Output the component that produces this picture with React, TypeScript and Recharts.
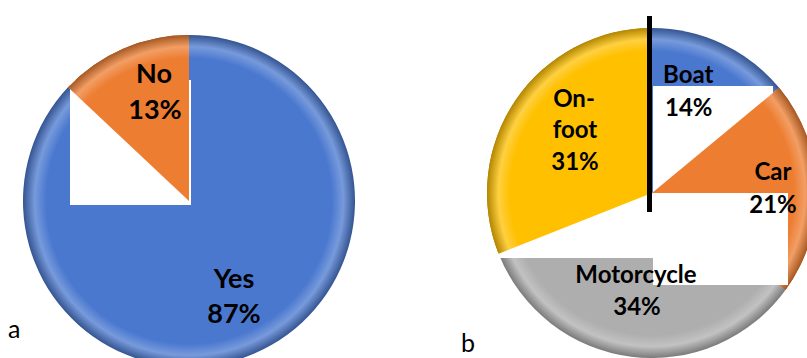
import React from "react";
import { PieChart, Pie, Cell } from "recharts";

// chart a: answer yes / no
const answerNames = ["No", "Yes"];
const answerValues = [13, 87];
const answerColors = ["#ED7D31", "#4A78CF"];

// chart b: mode of transport
const modeNames = ["Boat", "Car", "Motorcycle", "On-foot"];
const modeValues = [14, 21, 34, 31];
const modeColors = ["#4A78CF", "#ED7D31", "#AEAEAE", "#FFC000"];

const W = 807;
const H = 358;
const A = { cx: 189, cy: 201, r: 166 };
const B = { cx: 652, cy: 193, r: 165 };

const answerData = answerNames.map((name, i) => ({ name, value: answerValues[i] }));
const modeData = modeNames.map((name, i) => ({ name, value: modeValues[i] }));

const shade = (hex: string, f: number) => {
  const n = parseInt(hex.slice(1), 16);
  const c = [(n >> 16) & 255, (n >> 8) & 255, n & 255].map((v) =>
    Math.max(0, Math.min(255, Math.round(f > 0 ? v + (255 - v) * f : v * (1 + f))))
  );
  return `rgb(${c.join(",")})`;
};

const Grad = ({ id, color, p }: { id: string; color: string; p: typeof A }) => (
  <radialGradient id={id} gradientUnits="userSpaceOnUse" cx={p.cx} cy={p.cy} r={p.r}>
    <stop offset="0" stopColor={color} />
    <stop offset="0.86" stopColor={color} />
    <stop offset="0.93" stopColor={shade(color, 0.25)} />
    <stop offset="1" stopColor={shade(color, -0.3)} />
  </radialGradient>
);

// one layer of both pies; `show` says which slices are painted
const Layer = ({ tag, showA, showB }: { tag: string; showA: string[]; showB: string[] }) => (
  <div style={{ position: "absolute", left: 0, top: 0 }}>
    <PieChart width={W} height={H} margin={{ top: 0, right: 0, bottom: 0, left: 0 }}>
      <defs>
        {answerColors.map((c, i) => (
          <Grad key={"a" + i} id={`${tag}a${i}`} color={c} p={A} />
        ))}
        {modeColors.map((c, i) => (
          <Grad key={"b" + i} id={`${tag}b${i}`} color={c} p={B} />
        ))}
      </defs>
      <Pie
        data={answerData}
        dataKey="value"
        nameKey="name"
        cx={A.cx}
        cy={A.cy}
        outerRadius={A.r}
        startAngle={90}
        endAngle={450}
        stroke="none"
        isAnimationActive={false}
      >
        {answerData.map((d, i) => (
          <Cell key={d.name} fill={showA.includes(d.name) ? `url(#${tag}a${i})` : "transparent"} />
        ))}
      </Pie>
      <Pie
        data={modeData}
        dataKey="value"
        nameKey="name"
        cx={B.cx}
        cy={B.cy}
        outerRadius={B.r}
        startAngle={90}
        endAngle={-270}
        stroke="none"
        isAnimationActive={false}
      >
        {modeData.map((d, i) => (
          <Cell key={d.name} fill={showB.includes(d.name) ? `url(#${tag}b${i})` : "transparent"} />
        ))}
      </Pie>
    </PieChart>
  </div>
);

const WhiteBox = ({ x, y, w, h }: { x: number; y: number; w: number; h: number }) => (
  <div style={{ position: "absolute", left: x, top: y, width: w, height: h, background: "#fff" }} />
);

export default function App() {
  return (
    <div style={{ position: "absolute", left: 0, top: 0, width: W, height: H, overflow: "hidden", background: "#fff" }}>
      <Layer tag="l1" showA={answerNames} showB={modeNames} />
      <WhiteBox x={70} y={80} w={A.cx + 2 - 70} h={A.cy + 4 - 80} />
      <WhiteBox x={B.cx + 1} y={86} w={120} h={B.cy - 86} />
      <WhiteBox x={498} y={B.cy} w={B.cx + 1 - 498} h={65} />
      <Layer tag="l2" showA={["No"]} showB={["Car", "On-foot"]} />
      <WhiteBox x={B.cx + 1} y={B.cy} w={135} h={92} />
      <svg width={W} height={H} style={{ position: "absolute", left: 0, top: 0 }}>
        <rect x={647} y={16} width={5} height={196} fill="#000" />
        <g fontFamily="Lato, 'Open Sans', sans-serif" fontWeight="bold" fill="#000">
          <g fontSize={27} textAnchor="middle">
            <text x={154} y={83}>No</text>
            <text x={155} y={119}>13%</text>
            <text x={234} y={288}>Yes</text>
            <text x={234} y={323}>87%</text>
          </g>
          <g fontSize={24}>
            <text x={663} y={83}>Boat</text>
            <text x={665} y={116}>14%</text>
            <g textAnchor="middle">
              <text x={574} y={107}>On-</text>
              <text x={575} y={138}>foot</text>
              <text x={575} y={170}>31%</text>
              <text x={773} y={180}>Car</text>
              <text x={773} y={213}>21%</text>
              <text x={636} y={283}>Motorcycle</text>
              <text x={637} y={315}>34%</text>
            </g>
          </g>
        </g>
        <g fontFamily="Lato, 'Open Sans', sans-serif" fontSize={25} fill="#000">
          <text x={8} y={338}>a</text>
          <text x={461} y={352}>b</text>
        </g>
      </svg>
    </div>
  );
}
